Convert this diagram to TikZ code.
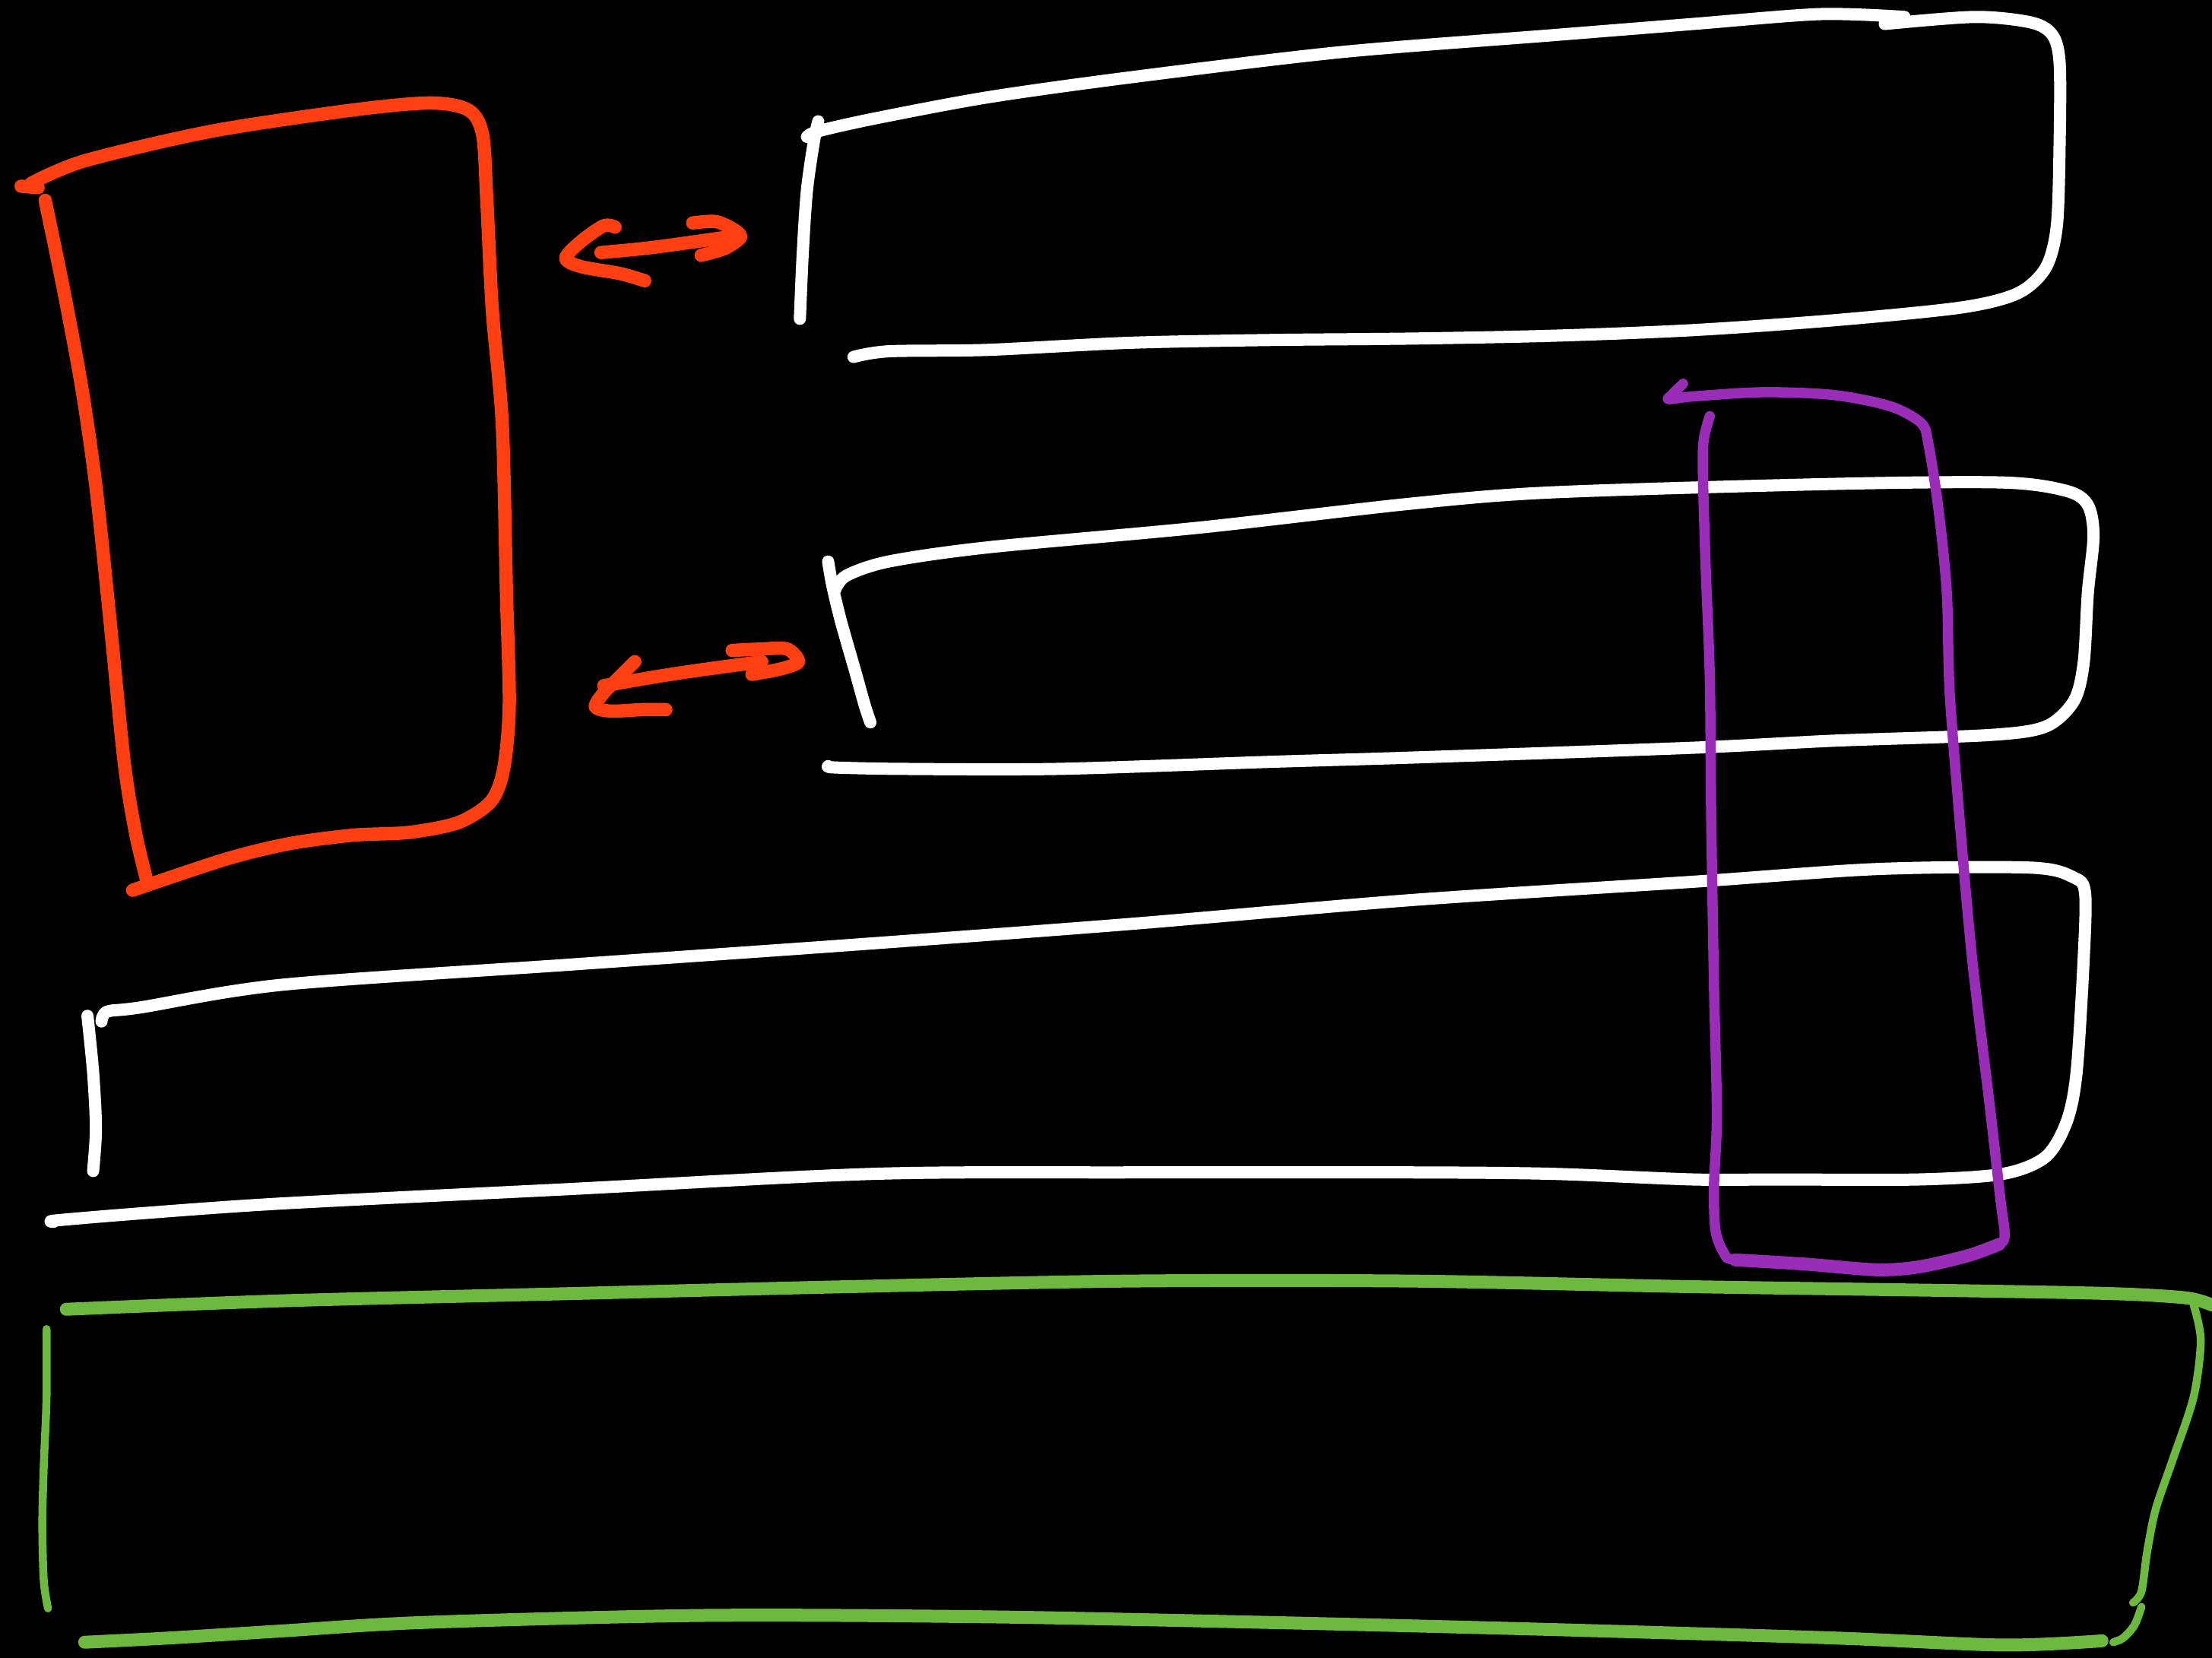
\documentclass[tikz,border=0pt]{standalone}
\usepackage{tikz}
\definecolor{penred}{HTML}{FF3F12}
\definecolor{penpurple}{HTML}{9A2DB8}
\definecolor{pengreen}{HTML}{6DB83E}

\begin{document}
\begin{tikzpicture}
		[
			x=0.01856cm, y=-0.01856cm,
			pen/.style={line cap=round, line join=round},
			redpen/.style={pen, draw=penred, line width=1.75mm},
			whitepen/.style={pen, draw=white, line width=1.6mm},
			purplepen/.style={pen, draw=penpurple, line width=1.35mm},
			greenpen/.style={pen, draw=pengreen, line width=1.7mm},
			thinpen/.style={line width=1.05mm}
		]

		\useasboundingbox (0,0) rectangle (1568,1175);
		\fill[black] (0,0) rectangle (1568,1175);
		\clip (0,0) rectangle (1568,1175);

		% red box
		\draw[redpen] (15,132) -- (27,133);
		\draw[redpen] plot[smooth] coordinates {(22,130) (60,114) (150,93) (250,78) (305,73) (332,78) (342,95) (345,140) (349,220) (356,300) (359,420) (361,500) (357,545) (348,568) (325,583) (290,590) (250,592) (205,598) (160,609) (94,631)};
		\draw[redpen] plot[smooth] coordinates {(32,142) (45,205) (58,275) (68,345) (78,440) (88,540) (96,590) (104,624)};

		% arrows
		\coordinate (upL) at (426,179);
		\coordinate (upR) at (516,168);
		\coordinate (loL) at (428,486);
		\coordinate (loR) at (540,469);

		\draw[redpen] (upL) .. controls (460,176) .. (upR);
		\draw[redpen] plot[smooth] coordinates {(436,161) (428,160) (412,171) (401,183) (412,189) (440,194) (457,199)};
		\draw[redpen] plot[smooth] coordinates {(491,158) (507,157) (519,162) (525,168) (514,176) (497,181)};

		\draw[redpen] (loL) .. controls (480,477) .. (loR);
		\draw[redpen] plot[smooth] coordinates {(450,469) (437,482) (428,491) (422,501) (433,504) (455,503) (472,503)};
		\draw[redpen] plot[smooth] coordinates {(519,461) (540,460) (558,460) (566,469) (554,474) (533,478)};

		% upper white box
		\draw[whitepen] plot[smooth] coordinates {(580,86) (577,100) (572,135) (569,180) (567,226)};
		\draw[whitepen] plot[smooth] coordinates {(572,97) (580,93) (620,84) (700,69) (800,55) (950,37) (1100,25) (1200,17) (1290,10) (1350,12)};
		\draw[whitepen] plot[smooth] coordinates {(1336,17) (1400,12) (1440,16) (1455,25) (1460,45) (1460,100) (1458,160) (1450,190) (1430,208) (1390,218) (1300,227) (1200,234) (1100,238) (1000,240) (900,241) (800,243) (700,248) (630,249) (605,253)};

		% middle white box
		\draw[whitepen] plot[smooth] coordinates {(587,398) (590,415) (596,440) (606,475) (613,500) (617,512)};
		\draw[whitepen] plot[smooth] coordinates {(592,418) (600,408) (630,398) (700,388) (850,374) (1000,357) (1100,349) (1300,343) (1420,342) (1465,348) (1480,358) (1484,380) (1480,420) (1477,470) (1470,497) (1450,515) (1410,521) (1300,525) (1200,530) (1000,537) (900,540) (750,545) (640,545) (592,544) (587,543)};

		% wide white box
		\draw[whitepen] plot[smooth] coordinates {(62,720) (66,760) (68,800) (66,830)};
		\draw[whitepen] plot[smooth] coordinates {(72,724) (76,717) (100,714) (200,698) (400,684) (600,670) (800,655) (1000,638) (1200,625) (1330,616) (1440,615) (1470,622) (1478,633) (1477,680) (1472,760) (1465,795) (1450,820) (1420,832) (1360,836) (1260,836) (1200,836) (1100,832) (1000,831) (800,831) (620,832) (400,843) (200,853) (100,860) (40,865) (38,866)};

		% purple box
		\draw[purplepen] plot[smooth] coordinates {(1193,272) (1185,280) (1183,283) (1200,281) (1250,278) (1300,280) (1340,288) (1362,300) (1367,315) (1374,360) (1380,420) (1382,490) (1389,580) (1398,680) (1410,780) (1418,850) (1421,875) (1417,882) (1395,890) (1360,898) (1330,900) (1280,896) (1230,893) (1222,888) (1216,872) (1215,840) (1217,790) (1215,700) (1213,580) (1212,480) (1209,400) (1207,330) (1208,310) (1212,295)};
		\draw[purplepen, line width=1.7mm] plot[smooth] coordinates {(1417,882) (1395,890) (1360,898) (1330,900) (1280,896) (1230,893)};

		% green box
		\draw[greenpen] plot[smooth] coordinates {(47,928) (200,922) (400,917) (600,912) (800,908) (1000,908) (1200,912) (1400,915) (1500,917) (1550,920) (1568,925)};
		\draw[greenpen, thinpen] plot[smooth] coordinates {(1555,925) (1560,950) (1555,990) (1540,1035) (1528,1070) (1522,1100) (1518,1128) (1512,1136)};
		\draw[greenpen, thinpen] plot[smooth] coordinates {(1518,1139) (1513,1152) (1505,1161) (1498,1164)};
		\draw[greenpen, thinpen] plot[smooth] coordinates {(33,942) (33,990) (31,1040) (30,1080) (31,1120) (34,1140)};
		\draw[greenpen] plot[smooth] coordinates {(60,1164) (120,1161) (200,1156) (300,1150) (500,1145) (700,1146) (900,1150) (1100,1155) (1300,1161) (1420,1166) (1490,1163)};
	\end{tikzpicture}
\end{document}
